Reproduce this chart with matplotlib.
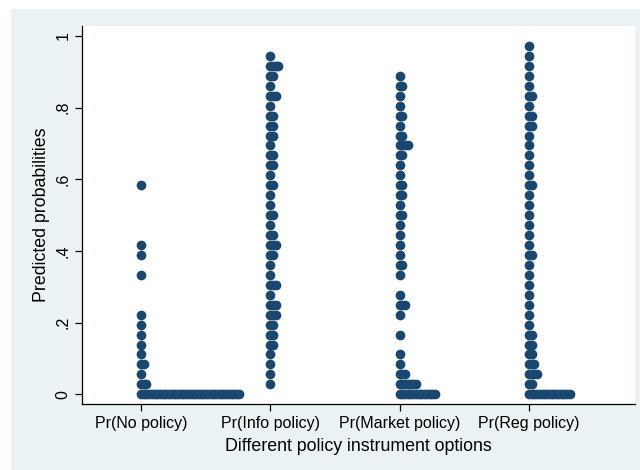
import matplotlib
matplotlib.use("Agg")
import matplotlib.pyplot as plt
from matplotlib.patches import Rectangle

plt.rcParams['font.family'] = ['Liberation Sans', 'DejaVu Sans']

categories = ["Pr(No policy)", "Pr(Info policy)", "Pr(Market policy)", "Pr(Reg policy)"]
bin_width = 1 / 36

# Dot-plot bins: bin index (value = index / 36) and number of observations in that bin
no_policy_bins = [0, 1, 2, 3, 4, 5, 6, 7, 8, 12, 14, 15, 21]
no_policy_counts = [37, 3, 1, 2, 1, 1, 1, 1, 1, 1, 1, 1, 1]

info_bins = list(range(1, 35))
info_counts = [1, 1, 1, 1, 2, 2, 2, 3, 3, 1, 3, 1, 1, 2, 3, 2, 1,
               2, 1, 1, 2, 1, 2, 2, 1, 2, 2, 2, 1, 3, 1, 2, 4, 1]

market_bins = [0, 1, 2, 3, 4, 6, 8, 9, 10, 12, 13, 14, 15, 16, 17, 18, 19,
               20, 21, 22, 23, 24, 25, 26, 27, 28, 29, 30, 31, 32]
market_counts = [14, 7, 3, 1, 1, 1, 1, 3, 1, 1, 2, 1, 1, 1, 1, 2, 1,
                 2, 2, 1, 1, 2, 4, 2, 1, 2, 1, 1, 2, 1]

reg_bins = list(range(0, 36))
reg_counts = [16, 2, 4, 3, 2, 2, 2, 1, 1, 1, 1, 1, 1, 1, 2, 1, 1, 1,
              1, 1, 1, 2, 1, 1, 1, 1, 1, 2, 2, 1, 2, 1, 1, 1, 1, 1]

series = [(no_policy_bins, no_policy_counts), (info_bins, info_counts),
          (market_bins, market_counts), (reg_bins, reg_counts)]

dot_color = "#1A476F"
bg_color = "#EAF2F3"
step = 0.021  # horizontal offset between stacked dots (category units)

fig = plt.figure(figsize=(6.4, 4.7), dpi=100)
fig.patch.set_facecolor("white")
fig.patches.append(Rectangle((11 / 640, 0), 1, 1 - 9 / 470, transform=fig.transFigure,
                             facecolor=bg_color, edgecolor="none", zorder=-10))

ax = fig.add_axes([82.4 / 640, (470 - 404.3) / 470, (635 - 82.4) / 640, (404.3 - 26) / 470])
ax.set_facecolor("white")

for i, (bins, counts) in enumerate(series):
    xs, ys = [], []
    for b, c in zip(bins, counts):
        for j in range(c):
            xs.append(i + 1 + j * step)
            ys.append(b * bin_width)
    ax.plot(xs, ys, linestyle="none", marker="o", markersize=7.0,
            markerfacecolor=dot_color, markeredgecolor="none")

ax.set_xlim(0.547, 4.82)
ax.set_ylim(-0.028, 1.028)

ax.set_xticks(range(1, 5))
ax.set_xticklabels(categories, fontsize=11.5)
ax.set_yticks([0, 0.2, 0.4, 0.6, 0.8, 1.0])
ax.set_yticklabels(["0", ".2", ".4", ".6", ".8", "1"], fontsize=11.5,
                   rotation=90, va="center")

for s in ["top", "right"]:
    ax.spines[s].set_visible(False)
for s in ["left", "bottom"]:
    ax.spines[s].set_color("black")
    ax.spines[s].set_linewidth(0.9)
ax.tick_params(direction="out", length=5, width=0.9, color="black", pad=3.5)

ax.set_xlabel("Different policy instrument options", fontsize=12.8, labelpad=5)
ax.set_ylabel("Predicted probabilities", fontsize=12.8, labelpad=4)

fig.savefig("out.png", dpi=100, facecolor=fig.get_facecolor())
